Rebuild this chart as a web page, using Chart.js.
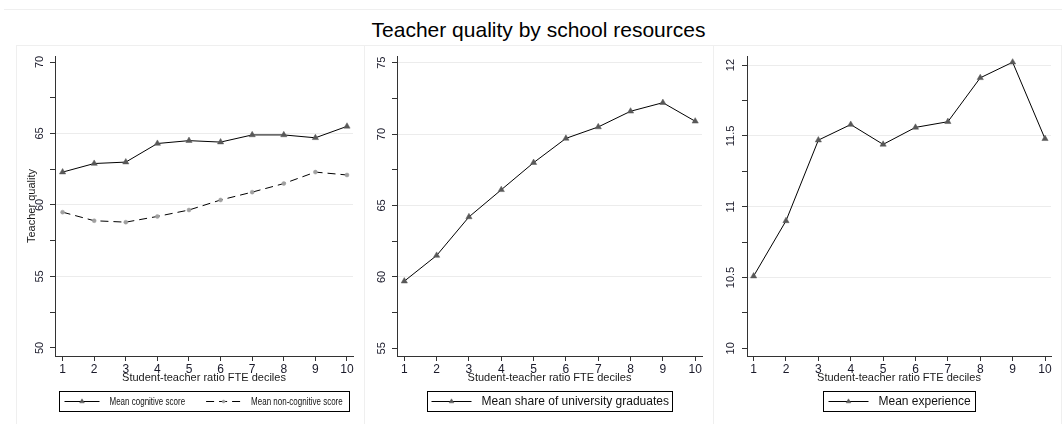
<!DOCTYPE html>
<html>
<head>
<meta charset="utf-8">
<script src="https://cdn.jsdelivr.net/npm/chart.js@4/dist/chart.umd.min.js"></script>
<style>
  html, body { margin: 0; padding: 0; background: #fff; }
  body { width: 1062px; height: 424px; position: relative; overflow: hidden;
         font-family: "Liberation Sans", Arial, sans-serif; }
  #outer { position: absolute; left: 4px; top: 9px; width: 1058px; height: 420px;
           border-top: 1px solid #efefef; box-sizing: border-box; }
  #title { position: absolute; left: 0; top: 17px; width: 1077px; text-align: center;
           font-size: 21px; line-height: 26px; color: #000; }
  .frame { position: absolute; top: 45px; height: 385px; border: 1px solid #efefef;
           box-sizing: border-box; }
  canvas { position: absolute; top: 45px; }
</style>
</head>
<body>
<div id="outer"></div>
<div id="title">Teacher quality by school resources</div>
<div class="frame" style="left:16px;width:349px"></div>
<div class="frame" style="left:364px;width:350px"></div>
<div class="frame" style="left:713px;width:349px"></div>
<canvas id="cQuality" width="347" height="379" style="left:16px"></canvas>
<canvas id="cGraduates" width="349" height="379" style="left:364px"></canvas>
<canvas id="cExperience" width="349" height="379" style="left:713px"></canvas>

<script>
// Student-teacher ratio deciles (x axis)
const deciles = [1, 2, 3, 4, 5, 6, 7, 8, 9, 10];

// Panel 1: teacher quality scores
const cognitiveScore    = [62.3, 62.9, 63.0, 64.3, 64.5, 64.4, 64.9, 64.9, 64.7, 65.5];
const nonCognitiveScore = [59.5, 58.9, 58.8, 59.2, 59.65, 60.35, 60.9, 61.5, 62.3, 62.1];

// Panel 2: share of university graduates
const universityShare = [59.7, 61.5, 64.2, 66.1, 68.0, 69.7, 70.5, 71.6, 72.2, 70.9];

// Panel 3: years of experience
const experience = [10.51, 10.90, 11.47, 11.58, 11.44, 11.56, 11.60, 11.91, 12.02, 11.48];

// Labelled y ticks of each panel
const qualityTicks    = [50, 55, 60, 65, 70];
const graduateTicks   = [55, 60, 65, 70, 75];
const experienceTicks = [10, 10.5, 11, 11.5, 12];

// Labels
const xTitle      = 'Student-teacher ratio FTE deciles';
const yTitle      = 'Teacher quality';
const cogLabel    = 'Mean cognitive score';
const noncogLabel = 'Mean non-cognitive score';
const gradLabel   = 'Mean share of university graduates';
const expLabel    = 'Mean experience';

const FONT = '"Liberation Sans", Arial, sans-serif';
Chart.defaults.font.family = FONT;
Chart.defaults.color = '#1a1a1a';

const points = vals => deciles.map((d, i) => ({ x: d, y: vals[i] }));

// Boxed legend below the x axis title: line sample with marker, then label
const boxLegend = {
  id: 'boxLegend',
  afterDraw(chart, args, o) {
    const ctx = chart.ctx, ca = chart.chartArea;
    ctx.save();
    ctx.font = o.fontSize + 'px ' + FONT;
    const items = chart.data.datasets.map(ds => ({ ds, w: ctx.measureText(ds.label).width * o.squeeze }));
    let total = o.padL + o.padR;
    items.forEach((it, i) => { total += o.sample + o.gap + it.w + (i ? o.between : 0); });
    const h = 20;
    const x0 = Math.round((ca.left + ca.right) / 2 - total / 2) + 0.5;
    const y0 = Math.round(ca.bottom + o.offset) + 0.5;
    ctx.strokeStyle = '#000';
    ctx.lineWidth = 1;
    ctx.strokeRect(x0, y0, Math.round(total), h);
    const my = y0 + h / 2;
    let px = x0 + o.padL;
    items.forEach((it, i) => {
      if (i) px += o.between;
      const ds = it.ds;
      ctx.save();
      ctx.strokeStyle = ds.borderColor;
      ctx.lineWidth = ds.borderWidth;
      ctx.setLineDash(ds.borderDash || []);
      ctx.beginPath();
      ctx.moveTo(px, my);
      ctx.lineTo(px + o.sample, my);
      ctx.stroke();
      ctx.setLineDash([]);
      ctx.fillStyle = ds.pointBackgroundColor;
      ctx.strokeStyle = ds.pointBorderColor;
      ctx.lineWidth = 0.5;
      Chart.helpers.drawPoint(ctx, { pointStyle: ds.pointStyle, radius: ds.pointRadius * 0.75, rotation: 0, borderWidth: 0.5 },
        px + o.sample / 2, my);
      ctx.restore();
      px += o.sample + o.gap;
      ctx.save();
      ctx.translate(px, my + 0.5);
      ctx.scale(o.squeeze, 1);
      ctx.fillStyle = '#111';
      ctx.textBaseline = 'middle';
      ctx.textAlign = 'left';
      ctx.fillText(ds.label, 0, 0);
      ctx.restore();
      px += it.w;
    });
    ctx.restore();
  }
};

function triangleSeries(label, vals) {
  return {
    label, data: points(vals),
    borderColor: '#000', borderWidth: 1, tension: 0,
    pointStyle: 'triangle', pointRadius: 3.6,
    pointBackgroundColor: '#585858', pointBorderColor: '#585858', pointBorderWidth: 0.5
  };
}

function makePanel(id, cfg) {
  const major = cfg.yTicks;
  const step = major[1] - major[0];
  const allTicks = [];
  major.forEach((v, i) => { allTicks.push(v); if (i < major.length - 1) allTicks.push(v + step / 2); });
  const gridSet = new Set(cfg.gridAt);
  return new Chart(document.getElementById(id), {
    type: 'line',
    data: { datasets: cfg.datasets },
    options: {
      responsive: false, animation: false,
      layout: { padding: { top: 11, right: cfg.padRight, left: 0, bottom: 0 } },
      plugins: { legend: { display: false }, tooltip: { enabled: false }, boxLegend: cfg.legend },
      scales: {
        x: {
          type: 'linear', min: cfg.xMin, max: cfg.xMax,
          afterBuildTicks: s => { s.ticks = deciles.map(v => ({ value: v })); },
          afterFit: s => { s.height = 68; },
          grid: { drawOnChartArea: false, tickLength: 5, tickColor: '#333' },
          border: { color: '#333', width: 1 },
          ticks: { autoSkip: false, maxRotation: 0, padding: 1.5, font: { size: 12 }, color: '#1a1a2a',
                   callback: v => String(v) },
          title: { display: true, text: xTitle, font: { size: 11 }, color: '#1a1a1a',
                   padding: { top: 0, bottom: 39 } }
        },
        y: {
          type: 'linear', min: cfg.yMin, max: cfg.yMax,
          afterBuildTicks: s => { s.ticks = allTicks.map(v => ({ value: v })); },
          afterFit: s => { s.width = cfg.yWidth; },
          grid: {
            tickLength: 5, tickColor: '#333', lineWidth: 1,
            color: c => (c.tick && gridSet.has(c.tick.value)) ? '#ececec' : 'rgba(0,0,0,0)'
          },
          border: { color: '#333', width: 1 },
          ticks: { autoSkip: false, minRotation: 90, maxRotation: 90, crossAlign: 'center',
                   padding: cfg.yPad, font: { size: 11 }, color: '#1a1a2a',
                   callback: v => major.includes(v) ? String(v) : '' },
          title: { display: !!cfg.yTitle, text: cfg.yTitle || '', font: { size: 11 }, color: '#1a1a1a',
                   padding: { top: 9, bottom: 0 } }
        }
      }
    },
    plugins: [boxLegend]
  });
}

makePanel('cQuality', {
  datasets: [
    triangleSeries(cogLabel, cognitiveScore),
    {
      label: noncogLabel, data: points(nonCognitiveScore),
      borderColor: '#000', borderWidth: 1, borderDash: [8, 5], tension: 0,
      pointStyle: 'circle', pointRadius: 2,
      pointBackgroundColor: '#a0a0a0', pointBorderColor: '#a0a0a0', pointBorderWidth: 0.5
    }
  ],
  yMin: 49.44, yMax: 70.42, yTicks: qualityTicks, gridAt: [55, 60, 65],
  yWidth: 39, yPad: 4, yTitle: yTitle, padRight: 10, xMin: 0.76, xMax: 10.19,
  legend: { fontSize: 10, squeeze: 0.8, padL: 5, sample: 35, gap: 10, between: 21, padR: 7, offset: 35 }
});

makePanel('cGraduates', {
  datasets: [triangleSeries(gradLabel, universityShare)],
  yMin: 54.46, yMax: 75.47, yTicks: graduateTicks, gridAt: [60, 65, 70, 75],
  yWidth: 33, yPad: 4, padRight: 11, xMin: 0.774, xMax: 10.21,
  legend: { fontSize: 12, squeeze: 1, padL: 4, sample: 40, gap: 10, between: 0, padR: 4, offset: 35 }
});

makePanel('cExperience', {
  datasets: [triangleSeries(expLabel, experience)],
  yMin: 9.946, yMax: 12.064, yTicks: experienceTicks, gridAt: [10.5, 11, 11.5, 12],
  yWidth: 34, yPad: 0, padRight: 11, xMin: 0.796, xMax: 10.185,
  legend: { fontSize: 12, squeeze: 1, padL: 5, sample: 40, gap: 10, between: 0, padR: 5, offset: 35 }
});
</script>
</body>
</html>
